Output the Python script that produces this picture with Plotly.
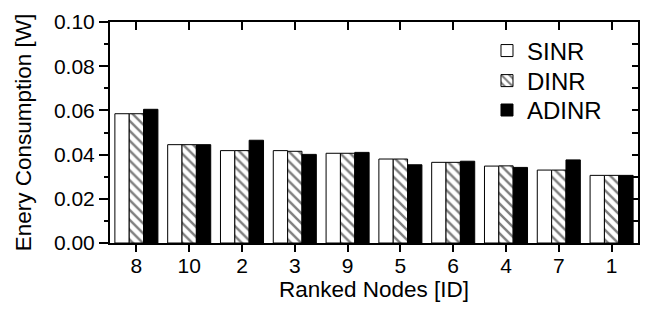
import plotly.graph_objects as go

nodes = ["8", "10", "2", "3", "9", "5", "6", "4", "7", "1"]
sinr = [0.0585, 0.0445, 0.0418, 0.0418, 0.0406, 0.0380, 0.0365, 0.0348, 0.0330, 0.0306]
dinr = [0.0585, 0.0445, 0.0418, 0.0415, 0.0406, 0.0380, 0.0365, 0.0349, 0.0330, 0.0306]
adinr = [0.0605, 0.0445, 0.0465, 0.0401, 0.0410, 0.0354, 0.0370, 0.0342, 0.0376, 0.0306]

font = "Liberation Sans, Arial, sans-serif"
fig = go.Figure()
fig.add_trace(go.Bar(name="SINR", x=nodes, y=sinr, legend="legend",
                     marker=dict(color="white", line=dict(color="black", width=1))))
fig.add_trace(go.Bar(name="DINR", x=nodes, y=dinr, legend="legend2",
                     marker=dict(color="white", line=dict(color="black", width=1),
                                 pattern=dict(shape="\\", fgcolor="black", bgcolor="white",
                                              size=7, solidity=0.35))))
fig.add_trace(go.Bar(name="ADINR", x=nodes, y=adinr, legend="legend3",
                     marker=dict(color="black", line=dict(color="black", width=1))))
fig.add_trace(go.Scatter(x=[None], y=[None], xaxis="x2", yaxis="y2",
                         showlegend=False, hoverinfo="skip"))

leg = dict(x=0.714, xanchor="left", yanchor="middle", font=dict(size=24),
           bgcolor="rgba(0,0,0,0)")

fig.update_layout(
    width=641, height=304,
    margin=dict(l=102, r=11, t=14, b=69),
    paper_bgcolor="white", plot_bgcolor="white",
    barmode="group", bargap=0.185, bargroupgap=0,
    font=dict(family=font, size=21, color="black"),
    showlegend=True,
    legend=dict(leg, y=0.869),
    legend2=dict(leg, y=0.733),
    legend3=dict(leg, y=0.600),
    xaxis=dict(type="category", range=[-0.5, 9.5], showline=True, linecolor="black",
               linewidth=2, ticks="outside", ticklen=7, tickwidth=1.5,
               tickcolor="black", showgrid=False, zeroline=False, automargin=False,
               ticklabelstandoff=-4,
               title=dict(text="Ranked Nodes [ID]", font=dict(size=22.5), standoff=4),
               tickfont=dict(size=21)),
    xaxis2=dict(overlaying="x", side="top", range=[-0.5, 9.5], tickvals=list(range(10)),
                showticklabels=False, ticks="inside", ticklen=8, tickwidth=1.5,
                tickcolor="black", showline=True, linecolor="black", linewidth=2,
                showgrid=False, zeroline=False, automargin=False),
    yaxis=dict(range=[0, 0.1], dtick=0.02, tickformat=".2f", showline=True,
               linecolor="black", linewidth=2, ticks="outside", ticklen=9,
               tickwidth=1.5, tickcolor="black", showgrid=False, zeroline=False,
               automargin=False,
               minor=dict(dtick=0.01, ticks="outside", ticklen=4, tickwidth=1.5,
                          tickcolor="black", showgrid=False),
               title=dict(text="Enery Consumption [W]", font=dict(size=22.5), standoff=16),
               tickfont=dict(size=21)),
    yaxis2=dict(overlaying="y", side="right", range=[0, 0.1], dtick=0.01,
                showticklabels=False, ticks="inside", ticklen=6, tickwidth=1.5,
                tickcolor="black", showline=True, linecolor="black", linewidth=2,
                showgrid=False, zeroline=False, automargin=False),
)
fig.write_html("out.html")
